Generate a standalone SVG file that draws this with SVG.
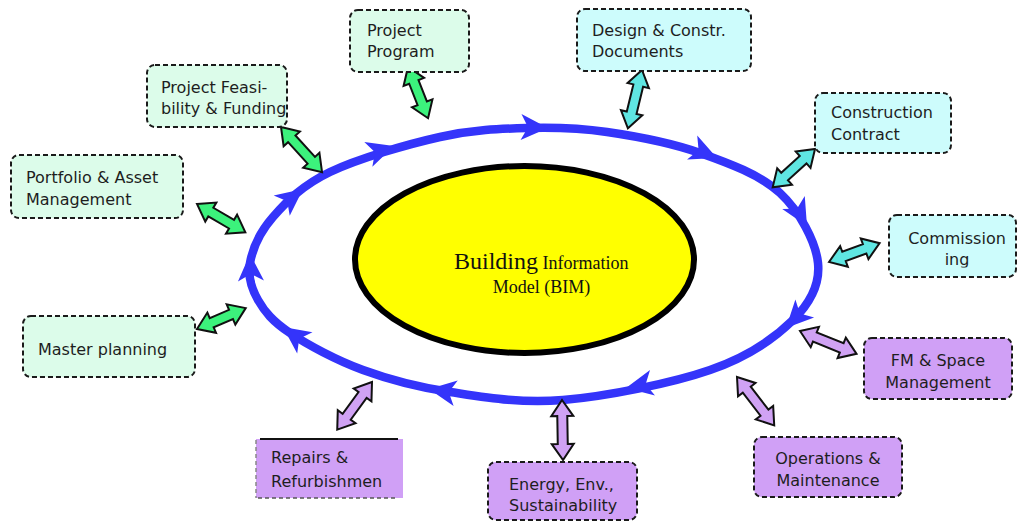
<svg xmlns="http://www.w3.org/2000/svg" xmlns:xlink="http://www.w3.org/1999/xlink" width="1018" height="523" viewBox="0 0 1018 523">
<style>
.box{stroke:#1a1a1a;stroke-width:2;stroke-dasharray:5 3}
.g{fill:#dcfcea}
.c{fill:#cdfcfc}
.p{fill:#d0a0f6}
.t{font-family:"DejaVu Sans","Liberation Sans",sans-serif;font-size:16px;fill:#1e1e1e}
.m{text-anchor:middle}
.da{stroke:#111;stroke-width:2;stroke-linejoin:miter}
.dg{fill:#3cf27c}
.dc{fill:#5fe6e2}
.dp{fill:#d0a2f4}
.cyc{fill:none;stroke:#3434fa;stroke-width:8.5}
.hd{fill:#3434fa}
.bim{font-family:"Liberation Serif","Times New Roman",serif;fill:#111}
</style>
<defs>
<path id="ah" d="M0,0 L-27,-13 L-20,0 L-27,13 Z"/>
<clipPath id="clipComm"><rect x="880" y="215" width="140" height="52.5"/></clipPath>
<clipPath id="clipFM"><rect x="860" y="338" width="160" height="53"/></clipPath>
<clipPath id="clipEn"><rect x="480" y="462" width="160" height="52"/></clipPath>
</defs>
<rect width="1018" height="523" fill="#fff"/>

<g id="connectors">
<g id="cycle">
<path class="cyc" d="M250,263 C252.5,249.2 259.7,232.2 273,217 C286.3,201.8 302.2,185.3 330,172 C357.8,158.7 407.2,144.3 440,137 C472.8,129.7 499.2,128.8 527,128 C554.8,127.2 578.2,127.8 607,132 C635.8,136.2 671.2,142.8 700,153 C728.8,163.2 760.3,174.7 780,193 C799.7,211.3 815.8,241.8 818,263 C820.2,284.2 811,302.2 793,320 C775,337.8 748.3,356.7 710,370 C671.7,383.3 606.3,396.3 563,400 C519.7,403.7 483.3,397 450,392 C416.7,387 389.7,379.8 363,370 C336.3,360.2 307.5,344.7 290,333 C272.5,321.3 264.7,311.7 258,300 C251.3,288.3 247.5,276.8 250,263 Z"/>
<use xlink:href="#ah" class="hd" transform="translate(394,146) rotate(-18)"/>
<use xlink:href="#ah" class="hd" transform="translate(548,128) rotate(2)"/>
<use xlink:href="#ah" class="hd" transform="translate(717,158) rotate(23)"/>
<use xlink:href="#ah" class="hd" transform="translate(807,226) rotate(60)"/>
<use xlink:href="#ah" class="hd" transform="translate(786,328) rotate(134)"/>
<use xlink:href="#ah" class="hd" transform="translate(626,388) rotate(169)"/>
<use xlink:href="#ah" class="hd" transform="translate(429,389) rotate(189)"/>
<use xlink:href="#ah" class="hd" transform="translate(283,327) rotate(216)"/>
<use xlink:href="#ah" class="hd" transform="translate(250,254) rotate(268)"/>
<use xlink:href="#ah" class="hd" transform="translate(303,189) rotate(-38)"/>
</g>
<path class="da dg" transform="translate(408,67) rotate(68.6)" d="M0,0 L16,-11 L16,-5 L39,-5 L39,-11 L55,0 L39,11 L39,5 L16,5 L16,11 Z"/>
<path class="da dg" transform="translate(281,127) rotate(47.7)" d="M0,0 L16,-11 L16,-5 L45,-5 L45,-11 L61,0 L45,11 L45,5 L16,5 L16,11 Z"/>
<path class="da dg" transform="translate(197,204) rotate(30.3)" d="M0,0 L16,-11 L16,-5 L40,-5 L40,-11 L56,0 L40,11 L40,5 L16,5 L16,11 Z"/>
<path class="da dg" transform="translate(197,329) rotate(-23.2)" d="M0,0 L16,-11 L16,-5 L37,-5 L37,-11 L53,0 L37,11 L37,5 L16,5 L16,11 Z"/>
<path class="da dc" transform="translate(642,70) rotate(103.6)" d="M0,0 L16,-11 L16,-5 L44,-5 L44,-11 L60,0 L44,11 L44,5 L16,5 L16,11 Z"/>
<path class="da dc" transform="translate(815,149) rotate(137.9)" d="M0,0 L16,-11 L16,-5 L41,-5 L41,-11 L57,0 L41,11 L41,5 L16,5 L16,11 Z"/>
<path class="da dc" transform="translate(829,262) rotate(-20.4)" d="M0,0 L16,-11 L16,-5 L38,-5 L38,-11 L54,0 L38,11 L38,5 L16,5 L16,11 Z"/>
<path class="da dp" transform="translate(800,331) rotate(22)" d="M0,0 L16,-11 L16,-5 L45,-5 L45,-11 L61,0 L45,11 L45,5 L16,5 L16,11 Z"/>
<path class="da dp" transform="translate(737,377) rotate(52.4)" d="M0,0 L16,-11 L16,-5 L45,-5 L45,-11 L61,0 L45,11 L45,5 L16,5 L16,11 Z"/>
<path class="da dp" transform="translate(562,400) rotate(89)" d="M0,0 L16,-11 L16,-5 L44,-5 L44,-11 L60,0 L44,11 L44,5 L16,5 L16,11 Z"/>
<path class="da dp" transform="translate(372,382) rotate(126.1)" d="M0,0 L16,-11 L16,-5 L43,-5 L43,-11 L59,0 L43,11 L43,5 L16,5 L16,11 Z"/>
</g>

<g id="bim">
<ellipse cx="524.5" cy="259.5" rx="169.5" ry="93.5" fill="#ffff00" stroke="#000" stroke-width="6"/>
<text class="bim" x="454" y="269"><tspan font-size="24">Building</tspan><tspan font-size="18"> Information</tspan></text>
<text class="bim" x="541.5" y="293" font-size="18" text-anchor="middle">Model (BIM)</text>
</g>

<g id="project-program">
<rect class="box g" x="350" y="10" width="119" height="62" rx="8"/>
<text class="t" x="367" y="36">Project</text>
<text class="t" x="367" y="57">Program</text>
</g>

<g id="project-feasibility">
<rect class="box g" x="147" y="65" width="140" height="62" rx="8"/>
<text class="t" x="161" y="93">Project Feasi-</text>
<text class="t" x="161" y="114">bility &amp; Funding</text>
</g>

<g id="portfolio">
<rect class="box g" x="11" y="155" width="172" height="63" rx="8"/>
<text class="t" x="26" y="183">Portfolio &amp; Asset</text>
<text class="t" x="26" y="205">Management</text>
</g>

<g id="master-planning">
<rect class="box g" x="23" y="316" width="172" height="61" rx="8"/>
<text class="t" x="38" y="355">Master planning</text>
</g>

<g id="design-docs">
<rect class="box c" x="577" y="9" width="174" height="62" rx="8"/>
<text class="t" x="592" y="36">Design &amp; Constr.</text>
<text class="t" x="592" y="57">Documents</text>
</g>

<g id="construction-contract">
<rect class="box c" x="815" y="93" width="136" height="60" rx="8"/>
<text class="t" x="831" y="118">Construction</text>
<text class="t" x="831" y="140">Contract</text>
</g>

<g id="commissioning">
<rect class="box c" x="889" y="215" width="127" height="62" rx="8"/>
<text class="t m" x="957" y="244">Commission</text>
<text class="t m" x="957" y="265" clip-path="url(#clipComm)">ing</text>
</g>

<g id="fm-space">
<rect class="box p" x="864" y="338" width="148" height="61" rx="8"/>
<text class="t m" x="938" y="366">FM &amp; Space</text>
<text class="t m" x="938" y="388" clip-path="url(#clipFM)">Management</text>
</g>

<g id="operations">
<rect class="box p" x="754" y="437" width="148" height="60" rx="8"/>
<text class="t m" x="828" y="464">Operations &amp;</text>
<text class="t m" x="828" y="486">Maintenance</text>
</g>

<g id="energy">
<rect class="box p" x="488" y="462" width="149" height="58" rx="8"/>
<text class="t" x="509" y="490">Energy, Env.,</text>
<text class="t" x="509" y="511" clip-path="url(#clipEn)">Sustainability</text>
</g>

<g id="repairs">
<rect class="p" x="256" y="439" width="147" height="59"/>
<line x1="260" y1="439" x2="398" y2="439" stroke="#111" stroke-width="2"/>
<line x1="256" y1="440" x2="256" y2="498" stroke="#888" stroke-width="1.5" stroke-dasharray="4 3"/>
<line x1="258" y1="498" x2="398" y2="498" stroke="#555" stroke-width="1.5" stroke-dasharray="4 3"/>
<text class="t" x="271" y="463">Repairs &amp;</text>
<text class="t" x="271" y="487">Refurbishmen</text>
</g>
</svg>
